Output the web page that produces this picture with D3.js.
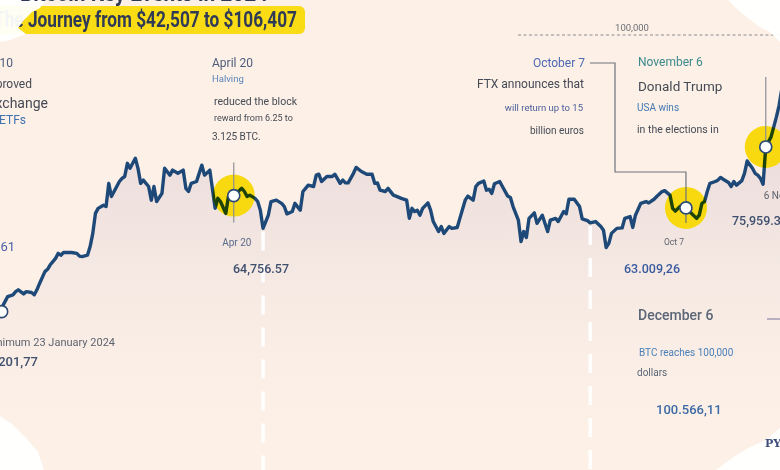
<!DOCTYPE html>
<html><head><meta charset="utf-8">
<script src="https://cdn.jsdelivr.net/npm/d3@7"></script>
<style>html,body{margin:0;padding:0;background:#fcf0e7;overflow:hidden}svg{display:block}</style>
</head><body>
<script>
// ---- DATA ----
const dates = ["2024-01-23","2024-01-25","2024-01-26","2024-01-28","2024-01-29","2024-01-30","2024-02-01","2024-02-02","2024-02-04","2024-02-05","2024-02-06","2024-02-07","2024-02-09","2024-02-10","2024-02-11","2024-02-12","2024-02-13","2024-02-14","2024-02-15","2024-02-16","2024-02-19","2024-02-21","2024-02-22","2024-02-23","2024-02-25","2024-02-26","2024-02-27","2024-02-28","2024-02-29","2024-03-02","2024-03-03","2024-03-04","2024-03-05","2024-03-07","2024-03-08","2024-03-09","2024-03-10","2024-03-11","2024-03-12","2024-03-14","2024-03-15","2024-03-16","2024-03-17","2024-03-19","2024-03-20","2024-03-21","2024-03-22","2024-03-24","2024-03-25","2024-03-27","2024-03-28","2024-03-30","2024-04-01","2024-04-02","2024-04-03","2024-04-04","2024-04-06","2024-04-08","2024-04-09","2024-04-11","2024-04-13","2024-04-14","2024-04-15","2024-04-17","2024-04-18","2024-04-20","2024-04-23","2024-04-24","2024-04-25","2024-04-26","2024-04-28","2024-04-29","2024-04-30","2024-05-01","2024-05-03","2024-05-04","2024-05-06","2024-05-08","2024-05-09","2024-05-10","2024-05-12","2024-05-13","2024-05-15","2024-05-16","2024-05-17","2024-05-18","2024-05-20","2024-05-21","2024-05-22","2024-05-23","2024-05-25","2024-05-27","2024-05-28","2024-05-30","2024-05-31","2024-06-01","2024-06-02","2024-06-04","2024-06-05","2024-06-07","2024-06-09","2024-06-11","2024-06-12","2024-06-13","2024-06-14","2024-06-16","2024-06-17","2024-06-19","2024-06-20","2024-06-22","2024-06-24","2024-06-25","2024-06-26","2024-06-27","2024-06-28","2024-06-29","2024-06-30","2024-07-02","2024-07-03","2024-07-04","2024-07-06","2024-07-07","2024-07-08","2024-07-10","2024-07-11","2024-07-13","2024-07-14","2024-07-16","2024-07-17","2024-07-19","2024-07-20","2024-07-21","2024-07-23","2024-07-24","2024-07-25","2024-07-26","2024-07-27","2024-07-29","2024-07-30","2024-08-01","2024-08-02","2024-08-03","2024-08-05","2024-08-06","2024-08-07","2024-08-08","2024-08-09","2024-08-11","2024-08-12","2024-08-14","2024-08-16","2024-08-17","2024-08-19","2024-08-20","2024-08-22","2024-08-23","2024-08-24","2024-08-26","2024-08-28","2024-08-29","2024-08-31","2024-09-01","2024-09-03","2024-09-05","2024-09-06","2024-09-07","2024-09-08","2024-09-09","2024-09-11","2024-09-13","2024-09-14","2024-09-16","2024-09-17","2024-09-18","2024-09-20","2024-09-22","2024-09-23","2024-09-25","2024-09-26","2024-09-28","2024-09-29","2024-10-01","2024-10-02","2024-10-03","2024-10-05","2024-10-06","2024-10-07","2024-10-09","2024-10-11","2024-10-12","2024-10-13","2024-10-14","2024-10-15","2024-10-16","2024-10-18","2024-10-19","2024-10-20","2024-10-21","2024-10-23","2024-10-24","2024-10-25","2024-10-26","2024-10-28","2024-10-29","2024-10-30","2024-11-01","2024-11-02","2024-11-03","2024-11-04","2024-11-05","2024-11-06","2024-11-08","2024-11-10","2024-11-11","2024-11-12"];
const prices = [39200,41400,42500,42900,43600,44000,43100,43600,43400,42900,44000,45400,48000,48500,49500,50200,50900,52000,51600,52200,52200,52000,51400,51300,51600,53500,56400,60800,61900,62600,62300,67400,64500,66700,67800,68500,68900,71800,70700,72900,70700,67400,68100,66700,63700,66700,63400,65200,70700,69200,70300,69600,70300,66300,65600,67400,67800,71400,69200,70300,61900,64100,63400,60800,64500,64700,66300,65600,64500,64800,64100,63400,61500,57500,60400,63400,63700,63000,62300,60700,61200,63000,61500,65600,66300,67000,66700,69200,69400,67800,68900,68900,69400,67400,68100,67500,67500,69600,70900,70000,69400,69400,67400,67500,65900,65600,66300,64800,64600,64100,63700,59700,61900,61200,61500,60400,61900,63100,61500,59000,56800,57900,56400,57900,57500,57700,59700,63700,64600,63700,66700,67400,67900,65900,66100,65200,67300,67800,66700,64600,64300,62300,59300,54600,56800,55500,59700,60900,58600,60400,56800,59300,59700,59000,61200,60700,63900,63900,62300,59600,59200,58700,59000,57900,57100,53300,54200,56400,57500,57600,59700,60100,57700,60400,63000,63400,63100,63900,64500,65600,65800,64800,61900,61300,62400,61400,62000,60800,59700,60400,63000,63400,65600,67400,67800,68100,68700,68300,67600,66700,67800,67000,68000,69600,72300,70700,69600,69200,68500,67200,75400,77600,82000,84500,88000];
const minDate = "2024-01-23";
const markerDates = ["2024-04-20","2024-10-07","2024-11-06"];
const markerLabels = ["Apr 20","Oct 7","6 Nov"];
const dividerDates = ["2024-05-01","2024-09-01"];
const refLevel = 100000;
const refLabel = "100,000";

// ---- CHART ----
const W = 780, H = 470;
const parse = d3.utcParse("%Y-%m-%d");
const data = dates.map((d,i)=>({date:parse(d), v:prices[i]}));
const valAt = s => data.find(d=>+d.date===+parse(s)).v;

const x = d3.scaleUtc().domain([parse("2024-01-01"), parse("2024-12-31")]).range([-58.84, 912.06]);
const y = d3.scaleLinear().domain([0,110000]).range([490,-10.5]);

const svg = d3.select("body").append("svg").attr("width",W).attr("height",H)
  .style("font-family","Roboto, 'Noto Sans', sans-serif");
svg.append("rect").attr("width",W).attr("height",H).attr("fill","#fcf0e7");

const defs = svg.append("defs");
const g1 = defs.append("linearGradient").attr("id","areaGrad").attr("gradientUnits","userSpaceOnUse")
  .attr("x1",0).attr("y1",150).attr("x2",0).attr("y2",H);
g1.append("stop").attr("offset","0%").attr("stop-color","#e4d6d8").attr("stop-opacity",0.75);
g1.append("stop").attr("offset","100%").attr("stop-color","#fcf0e7").attr("stop-opacity",0);

// reference 100k dashed line
svg.append("line").attr("x1",518).attr("x2",W).attr("y1",y(refLevel)).attr("y2",y(refLevel))
  .attr("stroke","#8c8c92").attr("stroke-width",1).attr("stroke-dasharray","3,2.5");
svg.append("text").attr("x",632).attr("y",y(refLevel)-4.5).attr("text-anchor","middle")
  .attr("font-size",9.5).attr("fill","#6d7079").text(refLabel);

// area
svg.append("path").datum(data)
  .attr("d", d3.area().x(d=>x(d.date)).y0(H).y1(d=>y(d.v)))
  .attr("fill","url(#areaGrad)");

// white dashed dividers
dividerDates.forEach(s=>{
  svg.append("line").attr("x1",x(parse(s))).attr("x2",x(parse(s)))
    .attr("y1",y(valAt(s))+3).attr("y2",H)
    .attr("stroke","#ffffff").attr("stroke-width",3.5).attr("stroke-dasharray","19,13").attr("opacity",0.95);
});

// yellow highlight circles
markerDates.forEach(s=>{
  svg.append("circle").attr("cx",x(parse(s))).attr("cy",y(valAt(s))).attr("r",21)
    .attr("fill","#f8d90f");
});

// price line
svg.append("path").datum(data)
  .attr("d", d3.line().x(d=>x(d.date)).y(d=>y(d.v)))
  .attr("fill","none").attr("stroke","#1e4f86").attr("stroke-width",3.4)
  .attr("stroke-linejoin","round").style("mix-blend-mode","multiply");

// leader lines
const ax = x(parse(markerDates[0])), ay = y(valAt(markerDates[0]));
svg.append("line").attr("x1",ax).attr("x2",ax).attr("y1",ay-33).attr("y2",ay+27)
  .attr("stroke","#8d8f98").attr("stroke-width",1.2);
const ox = x(parse(markerDates[1])), oy = y(valAt(markerDates[1]));
svg.append("polyline").attr("points",[[590,63],[615,63],[615,172],[ox,172],[ox,oy+15]].map(p=>p.join(",")).join(" "))
  .attr("fill","none").attr("stroke","#6f737d").attr("stroke-width",1.2);
const nx = x(parse(markerDates[2])), ny = y(valAt(markerDates[2]));
svg.append("line").attr("x1",nx).attr("x2",nx).attr("y1",77).attr("y2",ny)
  .attr("stroke","#8d8f98").attr("stroke-width",1.2);
svg.append("line").attr("x1",767).attr("x2",W).attr("y1",319).attr("y2",319)
  .attr("stroke","#8e88a8").attr("stroke-width",1.2);

// white marker circles
[minDate, ...markerDates].forEach(s=>{
  svg.append("circle").attr("cx",x(parse(s))+(s===minDate?2:0)).attr("cy",y(valAt(s))).attr("r",6)
    .attr("fill","#ffffff").attr("stroke","#2c4a76").attr("stroke-width",1.6);
});

// marker date labels
svg.append("text").attr("x",ax+3).attr("y",246).attr("text-anchor","middle").attr("font-size",10).attr("fill","#5a6a8a").text(markerLabels[0]);
svg.append("text").attr("x",ox-12).attr("y",245).attr("text-anchor","middle").attr("font-size",8.5).attr("fill","#5e626c").text(markerLabels[1]);
svg.append("text").attr("x",nx-2).attr("y",199).attr("text-anchor","start").attr("font-size",10).attr("fill","#5e626c").text(markerLabels[2]);

// text helper
function T(x0,y0,txt,size,color,opts={}){
  const t = svg.append("text").attr("x",x0).attr("y",y0).attr("font-size",size).attr("fill",color)
    .attr("text-anchor",opts.anchor||"start").attr("font-weight",opts.weight||400).text(txt);
  if(opts.len){ t.attr("textLength",opts.len).attr("lengthAdjust","spacingAndGlyphs"); }
  return t;
}

// titles
svg.append("rect").attr("x",-10).attr("y",6).attr("width",315).attr("height",28).attr("rx",6)
  .attr("fill","#fadc14");
T(297,27,"The Journey from $42,507 to $106,407",22,"#2f3a56",{anchor:"end",weight:700,len:303});

// left annotation
T(13,67,"January 10",12,"#4d5d7c",{anchor:"end"});
T(32,88,"SEC approved",12,"#454a55",{anchor:"end"});
T(48,108,"Exchange",14,"#454a55",{anchor:"end"});
T(26,124,"Bitcoin ETFs",12,"#3f73b0",{anchor:"end"});
T(15,251,"46,652.61",13,"#4a5fa8",{anchor:"end"});
T(115,346,"Minimum 23 January 2024",11,"#5e6470",{anchor:"end"});
T(38,366,"39.201,77",13,"#3f4f6e",{anchor:"end",weight:500});

// April 20
T(212,67,"April 20",12,"#4d5d7c");
T(212,82,"Halving",9.5,"#5a86b8");
T(214,105,"reduced the block",10.5,"#454a55");
T(214,121,"reward from 6.25 to",9,"#454a55");
T(212,140,"3.125 BTC.",10,"#454a55");
T(233,273,"64,756.57",12.5,"#3f4f6e",{weight:500});

// October 7
T(585,67,"October 7",12,"#4d6ab3",{anchor:"end"});
T(584,88,"FTX announces that",12,"#454a55",{anchor:"end"});
T(583,111,"will return up to 15",9.5,"#4d5e9a",{anchor:"end"});
T(584,134,"billion euros",10,"#454a55",{anchor:"end"});
T(624,273,"63.009,26",12.5,"#3a5ba0",{weight:500});

// November 6
T(638,66,"November 6",12,"#3b8a8c");
T(638,91,"Donald Trump",13.5,"#454a55");
T(637,111,"USA wins",10,"#4378b0");
T(637,133,"in the elections in",10.5,"#454a55");
T(732,225,"75,959.32",12.5,"#3f4f6e",{weight:500});

// December 6
T(638,320,"December 6",14,"#5b6676",{weight:500});
T(639,356,"BTC reaches 100,000",10,"#4a80b8");
T(637,376,"dollars",10,"#5b6676");
T(656,414,"100.566,11",13,"#3d6aa6",{weight:500});

// decorative white brush strokes
const brush = (pts,op)=>svg.append("path").attr("d","M"+pts.map(p=>p.join(",")).join("L")+"Z").attr("fill","#ffffff").attr("opacity",op||0.95);
brush([[0,0],[46,0],[40,8],[32,12],[24,20],[18,28],[26,34],[10,40],[0,42]]);
brush([[728,0],[780,0],[780,42],[770,32],[758,26],[748,18],[738,10]]);
brush([[0,416],[12,424],[26,438],[38,452],[44,470],[0,470]]);
brush([[716,470],[732,458],[748,448],[766,440],[780,428],[780,470]]);

T(20,1,"Bitcoin Key Events in 2024",22,"#2f3a56",{weight:700,len:248});
T(765,447,"PYMNTS",11,"#3f4d7a",{weight:700}).style("font-family","'DejaVu Serif', 'Liberation Serif', serif");
</script>
</body></html>
